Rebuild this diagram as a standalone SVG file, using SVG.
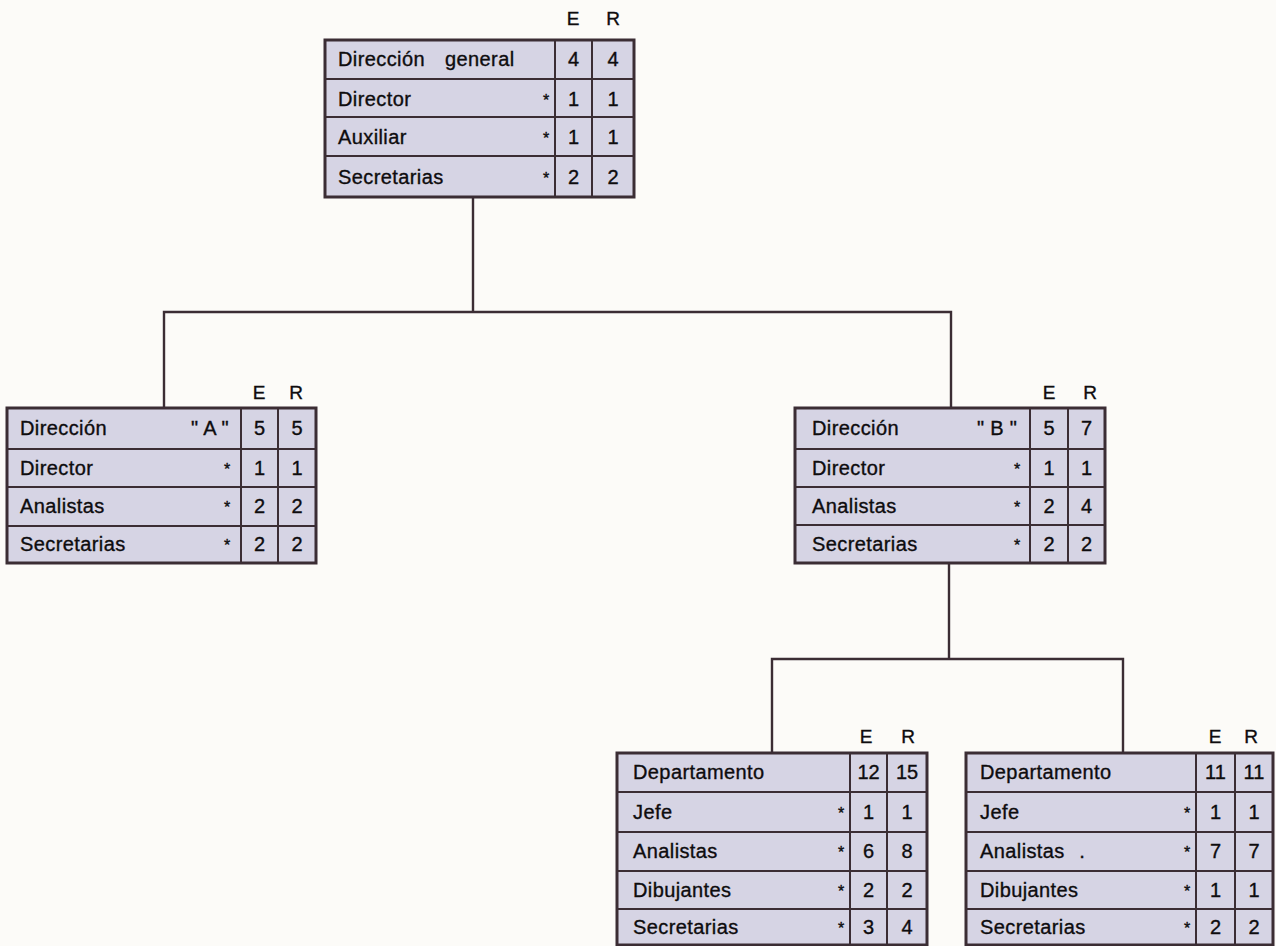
<svg xmlns="http://www.w3.org/2000/svg" width="1276" height="946" viewBox="0 0 1276 946">
  <style>
    .box { fill: #d6d4e4; stroke: #3b2d34; stroke-width: 3; }
    .grid { stroke: #3b2d34; stroke-width: 2; fill: none; }
    .wire { stroke: #3b2d34; stroke-width: 2.4; fill: none; stroke-linecap: square; }
    text { font-family: "Liberation Sans", Arial, sans-serif; fill: #0e0c0e; stroke: #0e0c0e; stroke-width: 0.35px; }
    .lbl { font-size: 20px; letter-spacing: 0.4px; }
    .num { font-size: 20px; text-anchor: middle; }
    .hdr { font-size: 19px; text-anchor: middle; }
    .ast { font-size: 16px; text-anchor: middle; }
    .mid { font-size: 20px; text-anchor: middle; letter-spacing: 0.3px; }
  </style>

  <rect x="0" y="0" width="1276" height="946" fill="#fcfbf8"/>

  <!-- tree connectors -->
  <g id="connectors">
    <path class="wire" d="M473 197 V312 M164 408 V312 H951 V408"/>
    <path class="wire" d="M949 563 V659 M772 753 V659 H1123 V753"/>
  </g>

  <!-- Dirección general -->
  <g id="n-general">
    <text class="hdr" x="573" y="25">E</text>
    <text class="hdr" x="613" y="25">R</text>
    <rect class="box" x="325" y="40" width="309" height="157"/>
    <path class="grid" d="M325 79 H634 M325 117 H634 M325 156 H634 M555 40 V197 M592 40 V197"/>
    <text class="lbl" x="338" y="66">Dirección</text>
    <text class="lbl" x="445" y="66">general</text>
    <text class="lbl" x="338" y="106">Director</text>
    <text class="lbl" x="338" y="144">Auxiliar</text>
    <text class="lbl" x="338" y="184">Secretarias</text>
    <text class="ast" x="546" y="106">*</text>
    <text class="ast" x="546" y="144">*</text>
    <text class="ast" x="546" y="184">*</text>
    <text class="num" x="573.5" y="66">4</text><text class="num" x="613" y="66">4</text>
    <text class="num" x="573.5" y="106">1</text><text class="num" x="613" y="106">1</text>
    <text class="num" x="573.5" y="144">1</text><text class="num" x="613" y="144">1</text>
    <text class="num" x="573.5" y="184">2</text><text class="num" x="613" y="184">2</text>
  </g>

  <!-- Dirección "A" -->
  <g id="n-direccion-a">
    <text class="hdr" x="259" y="399">E</text>
    <text class="hdr" x="296" y="399">R</text>
    <rect class="box" x="7" y="408" width="309" height="155"/>
    <path class="grid" d="M7 449 H316 M7 487 H316 M7 526 H316 M241 408 V563 M278 408 V563"/>
    <text class="lbl" x="20" y="435">Dirección</text>
    <text class="mid" x="210" y="435">" A "</text>
    <text class="lbl" x="20" y="475">Director</text>
    <text class="lbl" x="20" y="513">Analistas</text>
    <text class="lbl" x="20" y="551">Secretarias</text>
    <text class="ast" x="227" y="475">*</text>
    <text class="ast" x="227" y="513">*</text>
    <text class="ast" x="227" y="551">*</text>
    <text class="num" x="259.5" y="435">5</text><text class="num" x="297" y="435">5</text>
    <text class="num" x="259.5" y="475">1</text><text class="num" x="297" y="475">1</text>
    <text class="num" x="259.5" y="513">2</text><text class="num" x="297" y="513">2</text>
    <text class="num" x="259.5" y="551">2</text><text class="num" x="297" y="551">2</text>
  </g>

  <!-- Dirección "B" -->
  <g id="n-direccion-b">
    <text class="hdr" x="1049" y="399">E</text>
    <text class="hdr" x="1090" y="399">R</text>
    <rect class="box" x="795" y="408" width="310" height="155"/>
    <path class="grid" d="M795 449 H1105 M795 487 H1105 M795 525 H1105 M1030 408 V563 M1068 408 V563"/>
    <text class="lbl" x="812" y="435">Dirección</text>
    <text class="mid" x="997" y="435">" B "</text>
    <text class="lbl" x="812" y="475">Director</text>
    <text class="lbl" x="812" y="513">Analistas</text>
    <text class="lbl" x="812" y="551">Secretarias</text>
    <text class="ast" x="1017" y="475">*</text>
    <text class="ast" x="1017" y="513">*</text>
    <text class="ast" x="1017" y="551">*</text>
    <text class="num" x="1049" y="435">5</text><text class="num" x="1086.5" y="435">7</text>
    <text class="num" x="1049" y="475">1</text><text class="num" x="1086.5" y="475">1</text>
    <text class="num" x="1049" y="513">2</text><text class="num" x="1086.5" y="513">4</text>
    <text class="num" x="1049" y="551">2</text><text class="num" x="1086.5" y="551">2</text>
  </g>

  <!-- Departamento (left) -->
  <g id="n-departamento-1">
    <text class="hdr" x="866" y="743">E</text>
    <text class="hdr" x="908" y="743">R</text>
    <rect class="box" x="617" y="753" width="310" height="192"/>
    <path class="grid" d="M617 792 H927 M617 832 H927 M617 871 H927 M617 909 H927 M850 753 V945 M887 753 V945"/>
    <text class="lbl" x="633" y="779">Departamento</text>
    <text class="lbl" x="633" y="819">Jefe</text>
    <text class="lbl" x="633" y="858">Analistas</text>
    <text class="lbl" x="633" y="897">Dibujantes</text>
    <text class="lbl" x="633" y="934">Secretarias</text>
    <text class="ast" x="841" y="819">*</text>
    <text class="ast" x="841" y="858">*</text>
    <text class="ast" x="841" y="897">*</text>
    <text class="ast" x="841" y="934">*</text>
    <text class="num" x="868.5" y="779">12</text><text class="num" x="907" y="779">15</text>
    <text class="num" x="868.5" y="819">1</text><text class="num" x="907" y="819">1</text>
    <text class="num" x="868.5" y="858">6</text><text class="num" x="907" y="858">8</text>
    <text class="num" x="868.5" y="897">2</text><text class="num" x="907" y="897">2</text>
    <text class="num" x="868.5" y="934">3</text><text class="num" x="907" y="934">4</text>
  </g>

  <!-- Departamento (right) -->
  <g id="n-departamento-2">
    <text class="hdr" x="1215" y="743">E</text>
    <text class="hdr" x="1251" y="743">R</text>
    <rect class="box" x="966" y="753" width="307" height="192"/>
    <path class="grid" d="M966 792 H1273 M966 832 H1273 M966 871 H1273 M966 909 H1273 M1196 753 V945 M1235 753 V945"/>
    <text class="lbl" x="980" y="779">Departamento</text>
    <text class="lbl" x="980" y="819">Jefe</text>
    <text class="lbl" x="980" y="858">Analistas</text>
    <text class="num" x="1082" y="862">·</text>
    <text class="lbl" x="980" y="897">Dibujantes</text>
    <text class="lbl" x="980" y="934">Secretarias</text>
    <text class="ast" x="1187" y="819">*</text>
    <text class="ast" x="1187" y="858">*</text>
    <text class="ast" x="1187" y="897">*</text>
    <text class="ast" x="1187" y="934">*</text>
    <text class="num" x="1215.5" y="779">11</text><text class="num" x="1254" y="779">11</text>
    <text class="num" x="1215.5" y="819">1</text><text class="num" x="1254" y="819">1</text>
    <text class="num" x="1215.5" y="858">7</text><text class="num" x="1254" y="858">7</text>
    <text class="num" x="1215.5" y="897">1</text><text class="num" x="1254" y="897">1</text>
    <text class="num" x="1215.5" y="934">2</text><text class="num" x="1254" y="934">2</text>
  </g>
</svg>
